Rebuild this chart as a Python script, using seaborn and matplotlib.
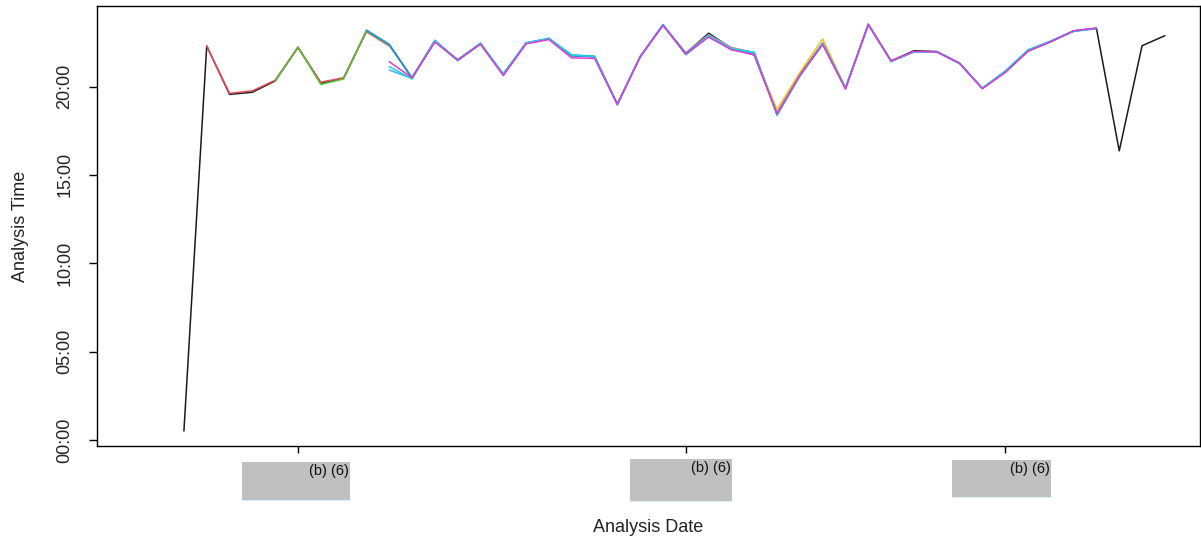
import matplotlib
matplotlib.use("Agg")
import matplotlib.pyplot as plt
import matplotlib.patches as mpatches
import numpy as np
import pandas as pd
import seaborn as sns

# ---- data -------------------------------------------------------------
# analysis time of day (hours) per analysis day; the reference run covers every day
reference_start = 0
reference_time = [0.51, 22.30, 19.56, 19.68, 20.32, 22.22, 20.19, 20.47, 23.15, 22.35,
                  20.50, 22.58, 21.51, 22.41, 20.70, 22.45, 22.69, 21.75, 21.69, 19.00,
                  21.69, 23.49, 21.88, 23.02, 22.17, 21.79, 18.49, 20.66, 22.45, 19.90,
                  23.53, 21.45, 22.03, 21.98, 21.32, 19.90, 20.81, 22.01, 22.54, 23.15,
                  23.30, 16.36, 22.31, 22.88]

red_start = 1
red_time = [22.30, 19.62, 19.76, 20.36, 22.22, 20.25, 20.50, 23.10, 22.30]

green_start = 4
green_time = [20.30, 22.24, 20.12, 20.43, 23.14, 22.36, 20.52, 22.55, 21.53, 22.45, 20.68]

gray_start = 21
gray_time = [23.46, 21.92, 22.94, 22.22, 21.92, 18.48, 20.70]

yellow_start = 24
yellow_time = [22.16, 21.82, 18.70, 20.80, 22.70, 19.94, 23.50]

blue_start = 8
blue_time = [23.20, 22.40, 20.45, 22.62, 21.48, 22.45, 20.68, 22.48, 22.72, 21.76,
             21.70, 19.02, 21.70, 23.50, 21.86, 22.86, 22.10, 21.90, 18.40, 20.60,
             22.42, 19.92, 23.52, 21.43, 21.97, 21.98, 21.33, 19.90, 20.86, 22.06,
             22.56, 23.12, 23.28]

skyblue_start = 9
skyblue_time = [20.94, 20.46, 22.56, 21.48, 22.44, 20.72, 22.47, 22.74, 21.78,
                21.70, 18.96, 21.70, 23.52, 21.82, 22.86, 22.14, 21.92, 18.40, 20.58,
                22.44, 19.92, 23.52, 21.44, 21.97, 21.97, 21.31, 19.89, 20.84, 22.05,
                22.57, 23.15, 23.29]

cyan_start = 9
cyan_time = [21.13, 20.44, 22.60, 21.46, 22.43, 20.66, 22.46, 22.70, 21.80,
             21.72, 18.98, 21.66, 23.48, 21.80, 22.83, 22.12, 21.95, 18.38, 20.62,
             22.40, 19.93, 23.50, 21.42, 21.96, 21.96, 21.30, 19.92, 20.88, 22.08,
             22.58, 23.14, 23.30]

magenta_start = 9
magenta_time = [21.41, 20.50, 22.52, 21.50, 22.40, 20.62, 22.42, 22.66, 21.62,
                21.60, 19.00, 21.68, 23.46, 21.84, 22.80, 22.08, 21.80, 18.45, 20.64,
                22.38, 19.86, 23.50, 21.45, 21.99, 21.96, 21.32, 19.88, 20.80, 22.00,
                22.55, 23.16, 23.31]

# drawing order: later series are painted on top
series_names = ["reference", "red", "green", "gray", "yellow", "blue", "skyblue", "cyan", "magenta"]
series_starts = [reference_start, red_start, green_start, gray_start, yellow_start,
                 blue_start, skyblue_start, cyan_start, magenta_start]
series_values = [reference_time, red_time, green_time, gray_time, yellow_time,
                 blue_time, skyblue_time, cyan_time, magenta_time]
series_colors = ["#1A1A1A", "#E5505E", "#56C13B", "#A0A0A0", "#E8C41A",
                 "#1F8FE8", "#3AB4F5", "#22D0DA", "#E03ADA"]

tick_days = [5, 22, 36]
tick_labels = ["(b) (6)", "(b) (6)", "(b) (6)"]
y_ticks = [0, 5, 10, 15, 20]
y_tick_labels = ["00:00", "05:00", "10:00", "15:00", "20:00"]

# long-format table for seaborn
rows = []
for name, start, vals in zip(series_names, series_starts, series_values):
    for i, v in enumerate(vals):
        rows.append({"series": name, "day": start + i, "hours": v})
df = pd.DataFrame(rows)

# ---- styling ----------------------------------------------------------
sns.set_theme(style="white")
plt.rcParams["font.family"] = ["Liberation Sans", "DejaVu Sans"]

W, H = 1201, 539
fig = plt.figure(figsize=(W / 100, H / 100), dpi=100)
ax = fig.add_axes([97 / W, (539 - 446) / H, (1200 - 97) / W, (446 - 6) / H])

palette = dict(zip(series_names, series_colors))
sns.lineplot(data=df, x="day", y="hours", hue="series", palette=palette,
             hue_order=series_names, estimator=None, sort=False,
             linewidth=1.1, legend=False, ax=ax)

ax.set_xlim(-3.81, 44.54)
ax.set_ylim(-0.34, 24.56)

for s in ax.spines.values():
    s.set_color("#000000")
    s.set_linewidth(1.0)

ax.set_yticks(y_ticks)
ax.set_yticklabels(y_tick_labels, rotation=90, va="center", fontsize=13, color="#222222")
ax.set_xticks(tick_days)
ax.set_xticklabels([])
ax.tick_params(axis="y", direction="out", length=6, width=1, color="#000000", pad=11, left=True)
ax.tick_params(axis="x", direction="out", length=5, width=1, color="#000000", bottom=True)

ax.set_ylabel("Analysis Time", fontsize=13, color="#222222")
ax.yaxis.label.set_verticalalignment("center")
ax.yaxis.set_label_coords((20 - 97) / (1200 - 97), 0.5)
ax.set_xlabel("Analysis Date", fontsize=13, color="#222222")
ax.xaxis.label.set_verticalalignment("center")
ax.xaxis.set_label_coords(0.5, (446 - 527) / (446 - 6))

# redacted date labels under each tick: gray block with the redaction code
box_offsets = [(-56, 52, 462, 500), (-56, 46, 459, 501), (-53, 46, 460, 497)]
fig.canvas.draw()
for d, lab, (l_off, r_off, top_px, bot_px) in zip(tick_days, tick_labels, box_offsets):
    x_disp = ax.transData.transform((d, 0))[0]
    left = x_disp + l_off
    right = x_disp + r_off
    fl, fr = left / W, right / W
    fb, ft = (H - bot_px) / H, (H - top_px) / H
    fig.patches.append(mpatches.Rectangle((fl, fb), fr - fl, ft - fb, transform=fig.transFigure,
                                          facecolor="#C0C0C0", edgecolor="none", zorder=1))
    fig.lines.append(plt.Line2D([fl, fl, fr], [ft, fb, fb], transform=fig.transFigure,
                                color="#D6F2F2", linewidth=0.8, zorder=1))
    fig.text((right - 1) / W, (H - top_px - 2) / H, lab, ha="right", va="top",
             fontsize=10.5, color="#111111", zorder=2)

fig.savefig("out.png", dpi=100, facecolor="white")
